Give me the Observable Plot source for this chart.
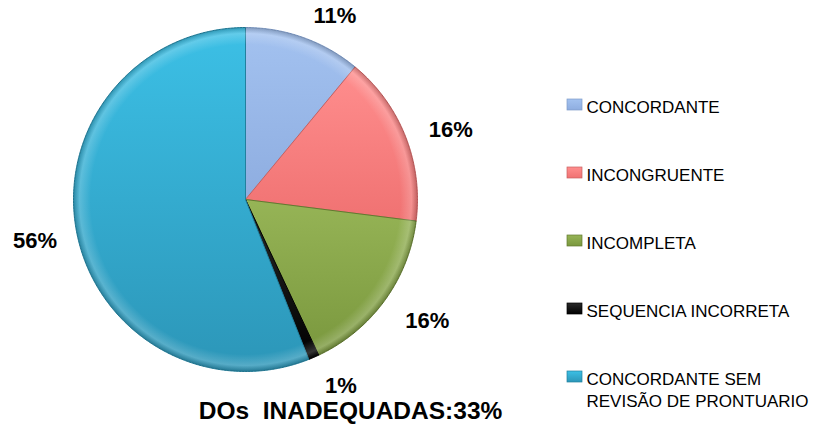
<!DOCTYPE html>
<html><head><meta charset="utf-8">
<script src="https://cdn.jsdelivr.net/npm/d3@7"></script>
<script src="https://cdn.jsdelivr.net/npm/@observablehq/plot@0.6"></script>
<style>
body{margin:0;background:#fff;}
</style></head><body><div id="chart"></div>
<script>
// ---- data ----
const categories = ["CONCORDANTE","INCONGRUENTE","INCOMPLETA","SEQUENCIA INCORRETA","CONCORDANTE SEM REVISÃO DE PRONTUARIO"];
const legendLabels = ["CONCORDANTE","INCONGRUENTE","INCOMPLETA","SEQUENCIA INCORRETA","CONCORDANTE SEM\nREVISÃO DE PRONTUARIO"];
const values = [11, 16, 16, 1, 56];
const valueLabels = ["11%","16%","16%","1%","56%"];
const footerText = "DOs\u00a0 INADEQUADAS:33%";
// ---- styles ----
const colorTop = ["#A3C2F0","#FF8E8E","#96B456","#2a2a2a","#3CC0E6"];
const colorBottom = ["#8EADE0","#F07272","#7A983E","#000000","#2C96B8"];
const strokeCol = ["#7F9CC9","#C86060","#627A30","#000000","#22809E"];
// ---- layout (pixels) ----
const W = 816, H = 429, CX = 245, CY = 199, R = 172;
const toX = px => (px - CX) / R, toY = py => (py - CY) / R;

const total = d3.sum(values);
let acc = 0;
const slices = values.map((v, i) => {
  const a0 = acc / total * 2 * Math.PI; acc += v;
  const a1 = acc / total * 2 * Math.PI;
  return {k: i, a0, a1, mid: (a0 + a1) / 2, label: valueLabels[i]};
});
const pts = slices.flatMap(s => {
  const n = Math.max(2, Math.ceil((s.a1 - s.a0) / (Math.PI / 360)));
  const arr = [{k: s.k, x: 0, y: 0}];
  for (let j = 0; j <= n; j++) {
    const a = s.a0 + (s.a1 - s.a0) * j / n;
    arr.push({k: s.k, x: Math.sin(a), y: -Math.cos(a)});
  }
  arr.push({k: s.k, x: 0, y: 0});
  return arr;
});
const circle = d3.range(0, 721).map(j => ({x: Math.sin(j * Math.PI / 360), y: -Math.cos(j * Math.PI / 360)}));

const LR = 195 / R, LRY = 199 / R;
const lab = slices.map(s => ({...s, lx: LR * Math.sin(s.mid), ly: LRY * -Math.cos(s.mid)}));

const legRows = legendLabels.map((t, i) => ({k: i, t, y: toY(103 + i * 68)}));

const sliceMarks = slices.map(s => Plot.line(pts.filter(p => p.k === s.k), {
  x: "x", y: "y", fill: () => `url(#g${s.k})`, stroke: () => strokeCol[s.k], strokeWidth: 1, curve: "linear"
}));

const chart = Plot.plot({
  width: W, height: H, margin: 0,
  x: {domain: [toX(0), toX(W)], range: [0, W], axis: null},
  y: {domain: [toY(0), toY(H)], range: [0, H], axis: null},
  color: {type: "identity"},
  style: {fontFamily: "'Liberation Sans', Arial, sans-serif", background: "#fff"},
  marks: [
    ...sliceMarks,
    Plot.line(circle, {x: "x", y: "y", fill: () => "url(#rim)", stroke: "none", curve: "linear"}),
    Plot.text(lab.filter(d => Math.sin(d.mid) >= 0), {x: "lx", y: "ly", text: "label", textAnchor: "start", dx: 2, dy: 4, fontSize: 22, fontWeight: "bold", fill: "#000"}),
    Plot.text(lab.filter(d => Math.sin(d.mid) < 0), {x: "lx", y: "ly", text: "label", textAnchor: "end", dx: 3, dy: 4, fontSize: 22, fontWeight: "bold", fill: "#000"}),
    Plot.rect(legRows, {x1: toX(567), x2: toX(582), y1: d => d.y + (-4 / R), y2: d => d.y + 7 / R, fill: d => `url(#g${d.k})`, stroke: d => strokeCol[d.k], strokeWidth: 0.7}),
    Plot.text(legRows, {x: toX(586), y: "y", text: "t", textAnchor: "start", lineAnchor: "top", dy: -6, lineHeight: 22 / 17, fontSize: 17, fill: "#000"}),
    Plot.text([footerText], {x: toX(350), y: toY(411), text: d => d, textAnchor: "middle", fontSize: 24.5, fontWeight: "bold", fill: "#000"})
  ]
});

const ns = "http://www.w3.org/2000/svg";
const defs = document.createElementNS(ns, "defs");
colorTop.forEach((c, i) => {
  const g = document.createElementNS(ns, "linearGradient");
  g.setAttribute("id", "g" + i);
  g.setAttribute("x1", "0"); g.setAttribute("y1", "0"); g.setAttribute("x2", "0"); g.setAttribute("y2", "1");
  [[0, c], [1, colorBottom[i]]].forEach(([o, col]) => {
    const s = document.createElementNS(ns, "stop");
    s.setAttribute("offset", o); s.setAttribute("stop-color", col);
    g.appendChild(s);
  });
  defs.appendChild(g);
});
const rg = document.createElementNS(ns, "radialGradient");
rg.setAttribute("id", "rim");
[[0, "#fff", 0], [0.9, "#fff", 0], [0.965, "#fff", 0.2], [1, "#000", 0.2]].forEach(([o, col, op]) => {
  const s = document.createElementNS(ns, "stop");
  s.setAttribute("offset", o); s.setAttribute("stop-color", col); s.setAttribute("stop-opacity", op);
  rg.appendChild(s);
});
defs.appendChild(rg);
chart.insertBefore(defs, chart.firstChild);
document.getElementById("chart").appendChild(chart);
</script></body></html>
